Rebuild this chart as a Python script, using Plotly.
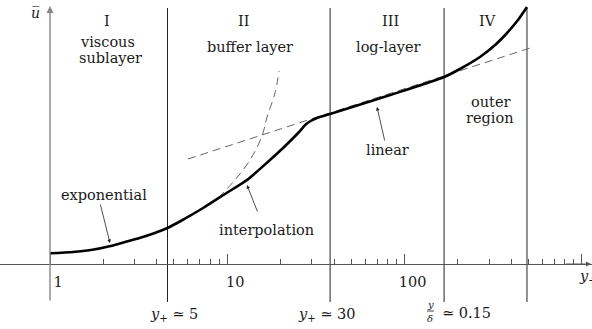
import plotly.graph_objects as go

# Mean velocity profile of a turbulent boundary layer (schematic), log wall distance
yplus_profile = [1.0, 1.35, 1.7, 2.2, 2.65, 3.2, 3.9, 4.6, 5.4, 7.3, 9.7, 12.9, 17.4,
                 21.2, 25.7, 27.5, 29.5, 32.5, 38, 83, 167, 205, 266, 324, 378, 436, 490]
u_profile = [1.07, 1.2, 1.4, 1.8, 2.2, 2.6, 3.1, 3.6, 4.25, 5.6, 7.0, 8.4, 10.4,
             11.8, 13.3, 13.9, 14.3, 14.65, 15.0, 16.9, 18.7, 19.5, 20.7, 21.9, 23.1, 24.4, 25.7]

# Asymptotic behaviours
yplus_exp = [8.86, 11.05, 13.43, 15.69, 16.75, 18.58, 19.57]
u_exp = [6.6, 8.4, 10.4, 12.8, 14.7, 17.1, 19.3]
yplus_lin = [6.0, 510]
u_lin = [10.5, 21.6]

# Region boundaries and axis extents
region_bounds = [4.6, 38, 167, 490]
u_bottom, u_top = -3.8, 25.6
major_ticks = [1, 10, 100, 1000]
major_labels = ["1", "10", "100", ""]
minor_ticks = [m * d for d in (1, 10, 100) for m in range(2, 10)]

W, H = 592, 329
SERIF = "DejaVu Serif"
TXT = "#1a1a1a"

fig = go.Figure()

fig.add_trace(go.Scatter(x=yplus_lin, y=u_lin, mode="lines",
                         line=dict(color="#666", width=1, dash="8px,5px"),
                         hoverinfo="skip"))
fig.add_trace(go.Scatter(x=yplus_exp, y=u_exp, mode="lines", line_shape="spline",
                         line=dict(color="#666", width=1, dash="8px,5px"),
                         hoverinfo="skip"))
fig.add_trace(go.Scatter(x=yplus_profile, y=u_profile, mode="lines",
                         line=dict(color="black", width=2.6, shape="spline", smoothing=0.7),
                         hoverinfo="skip"))

for xb in region_bounds:
    fig.add_shape(type="line", x0=xb, x1=xb, y0=u_bottom, y1=u_top,
                  xref="x", yref="y", line=dict(color="#222", width=1), layer="below")

# u axis with arrow (annotations on log axes use log10 coordinates)
fig.add_annotation(x=0, y=u_top + 0.2, ax=0, ay=u_bottom, xref="x", yref="y",
                   axref="x", ayref="y", text="", showarrow=True, arrowhead=2,
                   arrowsize=1, arrowwidth=1.4, arrowcolor="#888")
# arrow tip of the y+ axis
fig.add_annotation(x=541 / 177.3, y=0, ax=2.9, ay=0, xref="x", yref="y",
                   axref="x", ayref="y", text="", showarrow=True, arrowhead=2,
                   arrowsize=1, arrowwidth=1, arrowcolor="#555")


def label(text, px, py, size=14.5, xanchor="center"):
    fig.add_annotation(x=px / W, y=1 - py / H, xref="paper", yref="paper", text=text,
                       showarrow=False, xanchor=xanchor, yanchor="middle",
                       font=dict(family=SERIF, size=size, color=TXT))


def pointer(px, py, tx, ty):
    fig.add_annotation(x=tx / W, y=1 - ty / H, xref="paper", yref="paper",
                       ax=px - tx, ay=py - ty, axref="pixel", ayref="pixel",
                       text="", showarrow=True, arrowhead=2, arrowsize=0.9,
                       arrowwidth=0.8, arrowcolor="#222")


label("<i>u\u0305</i>", 35, 13, size=14)
label("I", 107, 21)
label("viscous", 107, 42)
label("sublayer", 110, 58)
label("II", 243, 21)
label("buffer layer", 250, 47)
label("III", 390, 21)
label("log-layer", 388, 47)
label("IV", 487, 21)
label("outer", 490, 102)
label("region", 490, 118)

label("exponential", 104, 195)
pointer(100, 203, 110, 243)
label("interpolation", 266, 230)
pointer(258, 213, 247, 185)
label("linear", 387, 150)
pointer(385, 142, 377, 107)

label("<i>y</i><sub>+</sub> \u2243 5", 174, 315)
label("<i>y</i><sub>+</sub> \u2243 30", 327, 315)
label("<i>y</i>", 430, 304, size=10)
label("<i>\u03b4</i>", 430, 318, size=10)
fig.add_shape(type="line", x0=427 / W, x1=434 / W, y0=1 - 311 / H, y1=1 - 311 / H,
              xref="paper", yref="paper", line=dict(color=TXT, width=0.8))
label("\u2243 0.15", 440, 313, xanchor="left")
label("<i>y</i><sub>+</sub>", 577, 277, xanchor="left")

fig.update_layout(
    width=W, height=H, margin=dict(l=0, r=0, t=0, b=0),
    paper_bgcolor="white", plot_bgcolor="white", showlegend=False,
    font=dict(family=SERIF),
    xaxis=dict(type="log", range=[-50 / 177.3, (W - 50) / 177.3],
               anchor="free", position=(H - 264) / H,
               showline=True, linecolor="#555", linewidth=1,
               showgrid=False, zeroline=False,
               tickmode="array", tickvals=major_ticks, ticktext=major_labels,
               ticks="inside", ticklen=10, tickwidth=1, tickcolor="#555",
               ticklabelshift=8, ticklabelstandoff=5,
               tickfont=dict(family=SERIF, size=14.5, color=TXT),
               minor=dict(tickmode="array", tickvals=minor_ticks, ticks="inside",
                          ticklen=5, tickwidth=1, tickcolor="#555", showgrid=False)),
    yaxis=dict(range=[(264 - H) / 10, 264 / 10], visible=False),
)

fig.write_html("out.html")
